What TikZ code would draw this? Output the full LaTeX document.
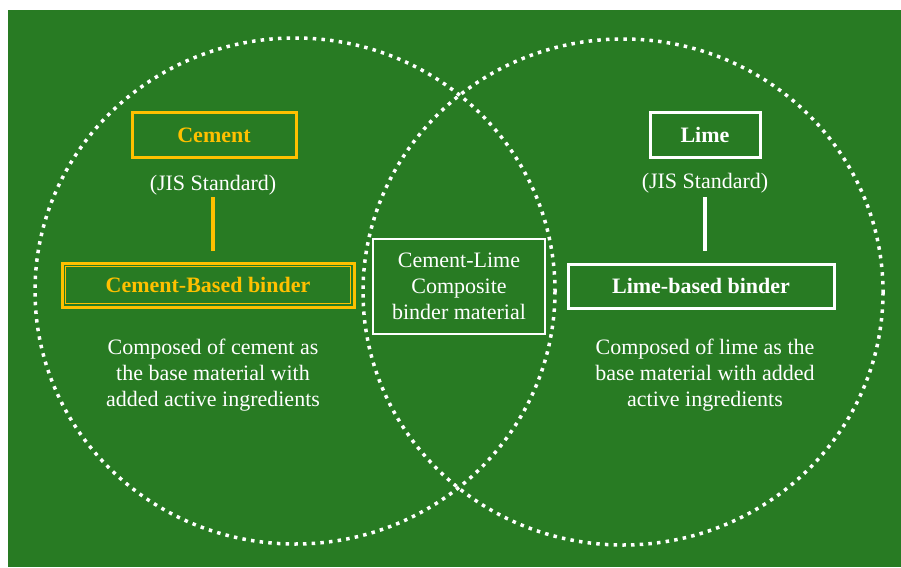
\documentclass[tikz,border=0pt]{standalone}
\usepackage{fontspec}
\setmainfont{Liberation Serif}
\definecolor{bggreen}{RGB}{40,123,35}
\definecolor{gold}{RGB}{255,192,0}
\begin{document}
\begin{tikzpicture}[x=1pt,y=-1pt,
  txt/.style={font=\fontsize{22}{26}\selectfont, text=white, align=center, inner sep=0pt},
  boxw/.style={draw=white, line width=3pt, minimum height=44pt, inner sep=0pt, font=\bfseries\fontsize{22}{26}\selectfont, text=white},
  boxg/.style={draw=gold, line width=3pt, minimum height=44pt, inner sep=0pt, font=\bfseries\fontsize{22}{26}\selectfont, text=gold},
  venn/.style={draw=white, line width=3.5pt, dash pattern=on 3.5pt off 5.2pt}]
\useasboundingbox (0,0) rectangle (901,567);
\fill[bggreen] (8,10) rectangle (901,567);
\draw[venn] (295,291) ellipse [x radius=260, y radius=253];
\draw[venn] (623,292) ellipse [x radius=260, y radius=253];
% left side
\node[boxg, minimum width=164pt] (cement) at (214,135) {Cement};
\node[txt] (jisL) at (213,185) {(JIS Standard)};
\coordinate (lineLtop) at (213,197);
\node[boxg, minimum width=292pt] (cbb) at (208,285) {Cement-Based binder};
\draw[gold, line width=1.2pt] ([xshift=5pt,yshift=-5pt]cbb.north west) rectangle ([xshift=-5pt,yshift=5pt]cbb.south east);
\draw[gold, line width=4pt] (lineLtop) -- ([yshift=11pt]cbb.north -| lineLtop);
\node[txt] (descL) at (213,375) {Composed of cement as\\the base material with\\added active ingredients};
% middle
\node[draw=white, line width=2pt, minimum width=172pt, minimum height=95pt, txt] (mid) at (459,286) {Cement-Lime\\Composite\\binder material};
% right side
\node[boxw, minimum width=110pt] (lime) at (705,135) {Lime};
\node[txt] (jisR) at (705,183) {(JIS Standard)};
\coordinate (lineRtop) at (705,197);
\node[boxw, minimum width=266pt] (lbb) at (701,286) {Lime-based binder};
\draw[white, line width=4pt] (lineRtop) -- ([yshift=12pt]lbb.north -| lineRtop);
\node[txt] (descR) at (705,375) {Composed of lime as the\\base material with added\\active ingredients};
\end{tikzpicture}
\end{document}
